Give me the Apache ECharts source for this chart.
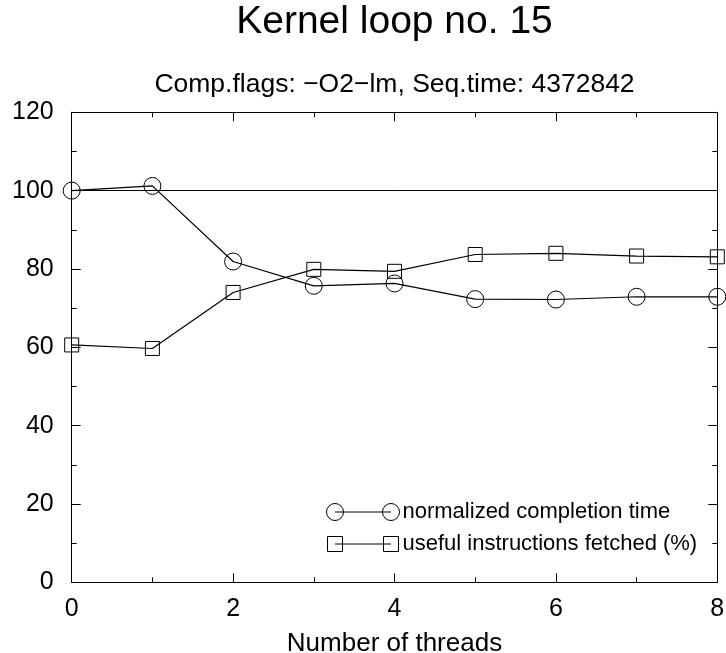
<!DOCTYPE html>
<html>
<head>
<meta charset="utf-8">
<title>Kernel loop no. 15</title>
<script src="https://cdn.jsdelivr.net/npm/echarts@6/dist/echarts.min.js"></script>
<style>
  html, body { margin: 0; padding: 0; background: #fff; }
  #chart { width: 726px; height: 653px; }
</style>
</head>
<body>
<div id="chart"></div>
<script>
// valeurs
const threads = [0, 1, 2, 3, 4, 5, 6, 7, 8];
const completion = [100.0, 101.2, 81.9, 75.7, 76.3, 72.3, 72.2, 72.9, 72.9];
const useful = [60.6, 59.7, 74.0, 79.9, 79.4, 83.7, 84.0, 83.3, 83.1];
const refLine = 100;

const FONT = '"Liberation Sans", Arial, Helvetica, sans-serif';

// icônes de légende : symbole — trait — symbole (comme gnuplot)
const ICON_CIRCLE = 'path://M0,8.5A8.5,8.5 0 1,0 17,8.5A8.5,8.5 0 1,0 0,8.5Z' +
  'M8.5,8.5L64.5,8.5M56,8.5A8.5,8.5 0 1,0 73,8.5A8.5,8.5 0 1,0 56,8.5Z';
const ICON_SQUARE = 'path://M0,0M73,17M1,1L16,1L16,16L1,16ZM8.5,8.5L64.5,8.5M57,1L72,1L72,16L57,16Z';

const chart = echarts.init(document.getElementById('chart'));

const pairs = (ys) => threads.map((t, i) => [t, ys[i]]);

const frameAxis = (extra) => Object.assign({
  type: 'value',
  axisLine: { show: true, onZero: false, lineStyle: { color: '#000', width: 1 } },
  axisTick: { show: true, inside: true, length: 9, lineStyle: { color: '#000', width: 1 } },
  minorTick: { show: true, splitNumber: 2, length: 5, lineStyle: { color: '#000', width: 1 } },
  splitLine: { show: false },
  minorSplitLine: { show: false }
}, extra);

chart.setOption({
  backgroundColor: '#fff',
  animation: false,
  title: [
    {
      text: 'Kernel loop no. 15',
      left: 394.5, top: 3, padding: 0, textAlign: 'center',
      textStyle: { fontFamily: FONT, fontSize: 39, fontWeight: 'normal', color: '#000' }
    },
    {
      text: 'Comp.flags: \u2212O2\u2212lm, Seq.time: 4372842',
      left: 394.5, top: 71, padding: 0, textAlign: 'center',
      textStyle: { fontFamily: FONT, fontSize: 26.5, fontWeight: 'normal', color: '#000' }
    }
  ],
  // pas d'ajustement automatique : la zone de tracé reste où on la met
  grid: { left: 71.7, right: 8.7, top: 112.3, bottom: 70.7, containLabel: false, outerBoundsMode: 'none' },
  legend: {
    orient: 'vertical',
    left: 324, top: 501, padding: 0,
    itemWidth: 73, itemHeight: 17, itemGap: 10,
    textStyle: { fontFamily: FONT, fontSize: 22, color: '#000', padding: [0, 0, 0, -2] },
    data: [
      { name: 'normalized completion time', icon: ICON_CIRCLE,
        itemStyle: { color: 'none', borderColor: '#000', borderWidth: 1 } },
      { name: 'useful instructions fetched (%)', icon: ICON_SQUARE,
        itemStyle: { color: 'none', borderColor: '#000', borderWidth: 1 } }
    ]
  },
  xAxis: [
    frameAxis({
      position: 'bottom', min: 0, max: 8, interval: 2,
      name: 'Number of threads', nameLocation: 'middle', nameGap: 49,
      nameTextStyle: { fontFamily: FONT, fontSize: 26, color: '#000' },
      axisLabel: { fontFamily: FONT, fontSize: 25, color: '#000', margin: 14 }
    }),
    frameAxis({
      position: 'top', min: 0, max: 8, interval: 2,
      axisLabel: { show: false }
    })
  ],
  yAxis: [
    frameAxis({
      position: 'left', min: 0, max: 120, interval: 20,
      axisLabel: { fontFamily: FONT, fontSize: 25, color: '#000', margin: 18 }
    }),
    frameAxis({
      position: 'right', min: 0, max: 120, interval: 20,
      axisLabel: { show: false }
    })
  ],
  series: [
    {
      name: 'normalized completion time',
      type: 'line',
      data: pairs(completion),
      symbol: 'circle', symbolSize: 17,
      itemStyle: { color: 'none', borderColor: '#000', borderWidth: 1 },
      lineStyle: { color: '#000', width: 1.2 },
      markLine: {
        silent: true, symbol: 'none', animation: false,
        label: { show: false },
        lineStyle: { color: '#000', type: 'solid', width: 1 },
        data: [{ yAxis: refLine }]
      }
    },
    {
      name: 'useful instructions fetched (%)',
      type: 'line',
      data: pairs(useful),
      symbol: 'rect', symbolSize: 14,
      itemStyle: { color: 'none', borderColor: '#000', borderWidth: 1 },
      lineStyle: { color: '#000', width: 1.2 }
    }
  ]
});
</script>
</body>
</html>
